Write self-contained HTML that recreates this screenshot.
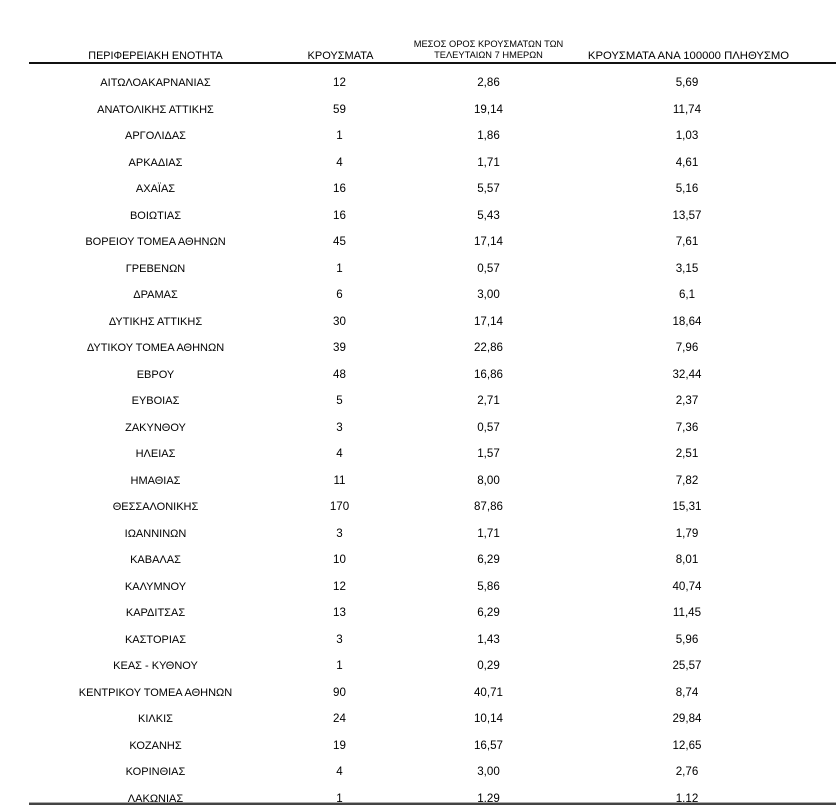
<!DOCTYPE html>
<html><head><meta charset="utf-8">
<style>
html,body{margin:0;padding:0;background:#fff;}
body{width:836px;height:810px;position:relative;overflow:hidden;font-family:"Liberation Sans","DejaVu Sans",sans-serif;color:#000;}
.r{position:absolute;left:0;width:836px;height:12px;}
.r span,.h{position:absolute;width:240px;text-align:center;font-size:11px;line-height:12px;height:12px;white-space:nowrap;}
.r span.c2,.r span.c3,.r span.c4{font-size:11.6px;}
.c1{left:35.5px}.c2{left:219.5px}.c3{left:368.5px}.c4{left:567px}
.hl{position:absolute;left:29px;width:807px;height:2px;background:#111;top:62px;}
.bl{position:absolute;left:29px;width:807px;height:2px;background:#444;top:803px;}
.bl2{position:absolute;left:29px;width:807px;height:1px;background:#aaa;top:802px;}
</style></head><body>
<div class="h" style="left:35.5px;top:50px;font-size:10.8px;">ΠΕΡΙΦΕΡΕΙΑΚΗ ΕΝΟΤΗΤΑ</div>
<div class="h" style="left:220.5px;top:50px;">ΚΡΟΥΣΜΑΤΑ</div>
<div class="h" style="left:368.5px;top:38.5px;font-size:9.3px;line-height:11px;">ΜΕΣΟΣ ΟΡΟΣ ΚΡΟΥΣΜΑΤΩΝ ΤΩΝ</div>
<div class="h" style="left:368.5px;top:50px;font-size:9.3px;line-height:11px;">ΤΕΛΕΥΤΑΙΩΝ 7 ΗΜΕΡΩΝ</div>
<div class="h" style="left:568.5px;top:50px;font-size:11.3px;">ΚΡΟΥΣΜΑΤΑ ΑΝΑ 100000 ΠΛΗΘΥΣΜΟ</div>
<div class="hl"></div>

<div class="r" style="top:77px"><span class="c1">ΑΙΤΩΛΟΑΚΑΡΝΑΝΙΑΣ</span><span class="c2">12</span><span class="c3">2,86</span><span class="c4">5,69</span></div>
<div class="r" style="top:103.5px"><span class="c1">ΑΝΑΤΟΛΙΚΗΣ ΑΤΤΙΚΗΣ</span><span class="c2">59</span><span class="c3">19,14</span><span class="c4">11,74</span></div>
<div class="r" style="top:130px"><span class="c1">ΑΡΓΟΛΙΔΑΣ</span><span class="c2">1</span><span class="c3">1,86</span><span class="c4">1,03</span></div>
<div class="r" style="top:156.5px"><span class="c1">ΑΡΚΑΔΙΑΣ</span><span class="c2">4</span><span class="c3">1,71</span><span class="c4">4,61</span></div>
<div class="r" style="top:183px"><span class="c1">ΑΧΑΪΑΣ</span><span class="c2">16</span><span class="c3">5,57</span><span class="c4">5,16</span></div>
<div class="r" style="top:209.5px"><span class="c1">ΒΟΙΩΤΙΑΣ</span><span class="c2">16</span><span class="c3">5,43</span><span class="c4">13,57</span></div>
<div class="r" style="top:236px"><span class="c1">ΒΟΡΕΙΟΥ ΤΟΜΕΑ ΑΘΗΝΩΝ</span><span class="c2">45</span><span class="c3">17,14</span><span class="c4">7,61</span></div>
<div class="r" style="top:262.5px"><span class="c1">ΓΡΕΒΕΝΩΝ</span><span class="c2">1</span><span class="c3">0,57</span><span class="c4">3,15</span></div>
<div class="r" style="top:289px"><span class="c1">ΔΡΑΜΑΣ</span><span class="c2">6</span><span class="c3">3,00</span><span class="c4">6,1</span></div>
<div class="r" style="top:315.5px"><span class="c1">ΔΥΤΙΚΗΣ ΑΤΤΙΚΗΣ</span><span class="c2">30</span><span class="c3">17,14</span><span class="c4">18,64</span></div>
<div class="r" style="top:342px"><span class="c1">ΔΥΤΙΚΟΥ ΤΟΜΕΑ ΑΘΗΝΩΝ</span><span class="c2">39</span><span class="c3">22,86</span><span class="c4">7,96</span></div>
<div class="r" style="top:368.5px"><span class="c1">ΕΒΡΟΥ</span><span class="c2">48</span><span class="c3">16,86</span><span class="c4">32,44</span></div>
<div class="r" style="top:395px"><span class="c1">ΕΥΒΟΙΑΣ</span><span class="c2">5</span><span class="c3">2,71</span><span class="c4">2,37</span></div>
<div class="r" style="top:421.5px"><span class="c1">ΖΑΚΥΝΘΟΥ</span><span class="c2">3</span><span class="c3">0,57</span><span class="c4">7,36</span></div>
<div class="r" style="top:448px"><span class="c1">ΗΛΕΙΑΣ</span><span class="c2">4</span><span class="c3">1,57</span><span class="c4">2,51</span></div>
<div class="r" style="top:474.5px"><span class="c1">ΗΜΑΘΙΑΣ</span><span class="c2">11</span><span class="c3">8,00</span><span class="c4">7,82</span></div>
<div class="r" style="top:501px"><span class="c1">ΘΕΣΣΑΛΟΝΙΚΗΣ</span><span class="c2">170</span><span class="c3">87,86</span><span class="c4">15,31</span></div>
<div class="r" style="top:527.5px"><span class="c1">ΙΩΑΝΝΙΝΩΝ</span><span class="c2">3</span><span class="c3">1,71</span><span class="c4">1,79</span></div>
<div class="r" style="top:554px"><span class="c1">ΚΑΒΑΛΑΣ</span><span class="c2">10</span><span class="c3">6,29</span><span class="c4">8,01</span></div>
<div class="r" style="top:580.5px"><span class="c1">ΚΑΛΥΜΝΟΥ</span><span class="c2">12</span><span class="c3">5,86</span><span class="c4">40,74</span></div>
<div class="r" style="top:607px"><span class="c1">ΚΑΡΔΙΤΣΑΣ</span><span class="c2">13</span><span class="c3">6,29</span><span class="c4">11,45</span></div>
<div class="r" style="top:633.5px"><span class="c1">ΚΑΣΤΟΡΙΑΣ</span><span class="c2">3</span><span class="c3">1,43</span><span class="c4">5,96</span></div>
<div class="r" style="top:660px"><span class="c1">ΚΕΑΣ - ΚΥΘΝΟΥ</span><span class="c2">1</span><span class="c3">0,29</span><span class="c4">25,57</span></div>
<div class="r" style="top:686.5px"><span class="c1">ΚΕΝΤΡΙΚΟΥ ΤΟΜΕΑ ΑΘΗΝΩΝ</span><span class="c2">90</span><span class="c3">40,71</span><span class="c4">8,74</span></div>
<div class="r" style="top:713px"><span class="c1">ΚΙΛΚΙΣ</span><span class="c2">24</span><span class="c3">10,14</span><span class="c4">29,84</span></div>
<div class="r" style="top:739.5px"><span class="c1">ΚΟΖΑΝΗΣ</span><span class="c2">19</span><span class="c3">16,57</span><span class="c4">12,65</span></div>
<div class="r" style="top:766px"><span class="c1">ΚΟΡΙΝΘΙΑΣ</span><span class="c2">4</span><span class="c3">3,00</span><span class="c4">2,76</span></div>
<div class="r" style="top:792.5px"><span class="c1">ΛΑΚΩΝΙΑΣ</span><span class="c2">1</span><span class="c3">1,29</span><span class="c4">1,12</span></div>
<div class="bl2"></div>
<div class="bl"></div>
</body></html>
